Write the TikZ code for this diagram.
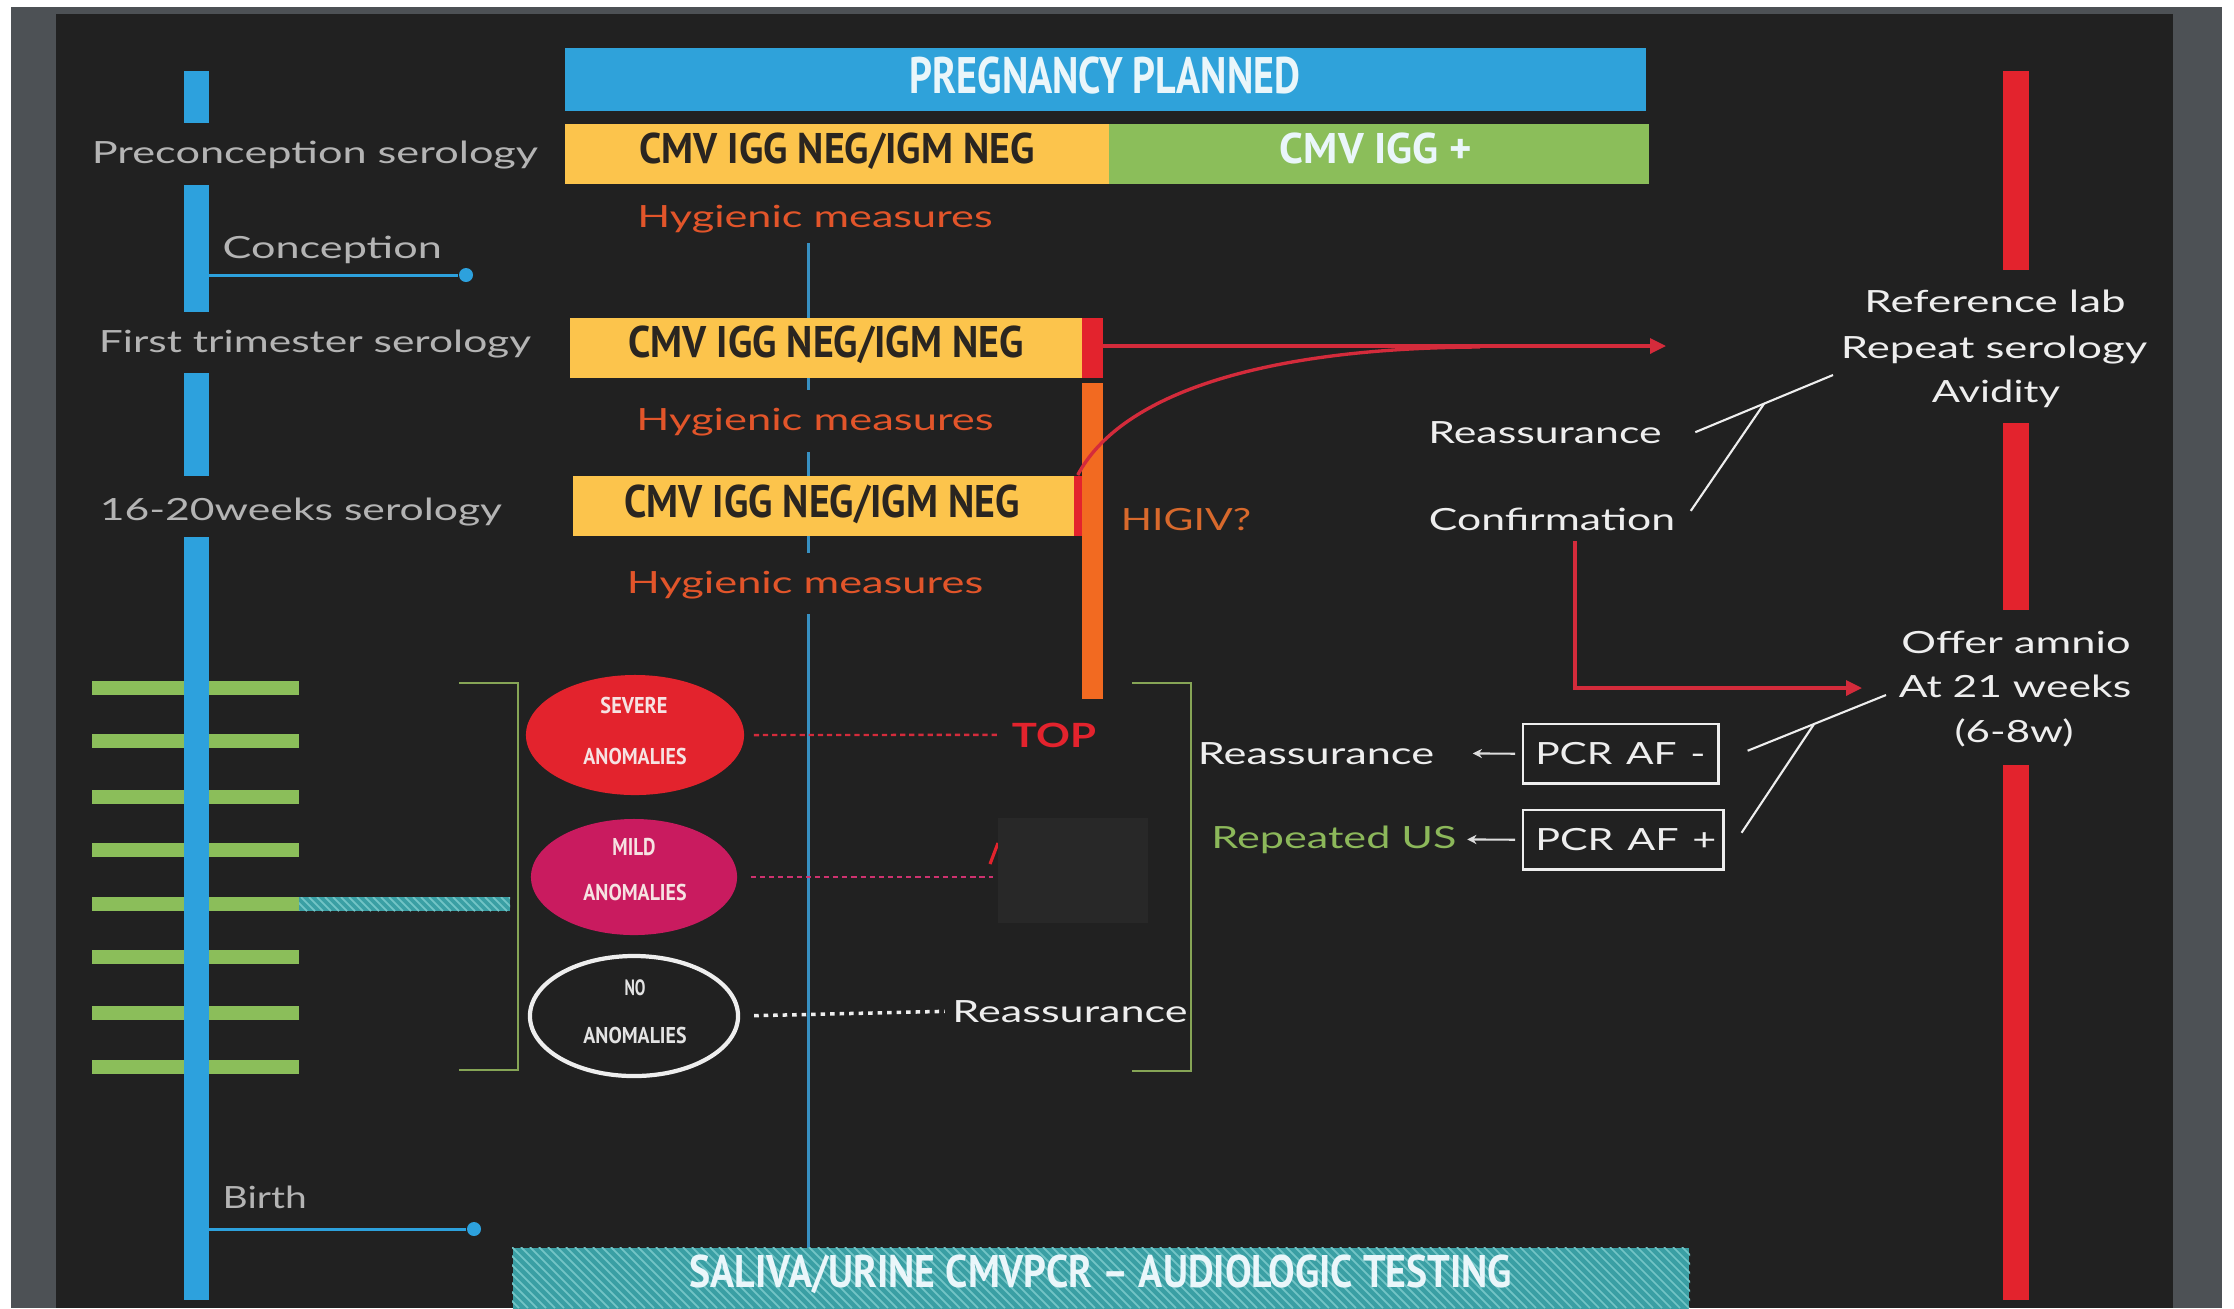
\documentclass[tikz,border=0pt]{standalone}
\usepackage{fontspec}
\usepackage{graphicx}
\setmainfont{Lato}
\newfontfamily\condf{PT Sans}
\usetikzlibrary{arrows.meta,shapes.geometric,calc}

\definecolor{bgdark}{HTML}{212121}
\definecolor{framec}{HTML}{4D5155}
\definecolor{tlblue}{HTML}{2DA1DD}
\definecolor{midblue}{HTML}{3790C2}
\definecolor{pblue}{HTML}{2FA2DA}
\definecolor{yel}{HTML}{FCC44C}
\definecolor{grn}{HTML}{8BBE5A}
\definecolor{barred}{HTML}{E3232D}
\definecolor{orng}{HTML}{F26A21}
\definecolor{magen}{HTML}{C91B5F}
\definecolor{tealc}{HTML}{3A9FA4}
\definecolor{tealh}{HTML}{72C4C6}
\definecolor{lgray}{HTML}{B4B4B4}
\definecolor{wtxt}{HTML}{EEEEEE}
\definecolor{hyg}{HTML}{E2552A}
\definecolor{higiv}{HTML}{D8692C}
\definecolor{redln}{HTML}{D42B3B}
\definecolor{repg}{HTML}{8CB85A}
\definecolor{brk}{HTML}{86A556}
\definecolor{darktxt}{HTML}{2A2520}
\definecolor{patch}{HTML}{282828}
\definecolor{sevtxt}{HTML}{F6E2E2}
\definecolor{pregtxt}{HTML}{EAF6FA}

\newlength\fitlen
\newcommand\fitw[2]{\settowidth\fitlen{#2}\pgfmathsetmacro\fitratio{#1/\fitlen}\scalebox{\fitratio}[1]{#2}}

\tikzset{
  txt/.style={inner sep=0pt, anchor=base, font=\fontsize{8.7}{10}\selectfont},
  graytxt/.style={txt, text=lgray},
  whitetxt/.style={txt, text=wtxt},
  hygtxt/.style={txt, text=hyg},
  cond/.style={inner sep=0pt, anchor=base, font={\condf\bfseries\fontsize{#1}{#1}\selectfont}},
  box/.style={inner sep=0pt, anchor=north west, draw=none},
  tl/.style={draw=tlblue, line width=0.85pt},
  dot/.style={circle, fill=tlblue, inner sep=0pt, minimum size=0.14cm},
  midline/.style={draw=midblue, line width=0.85pt},
  redarrow/.style={draw=redln, line width=0.95pt, -{Triangle[length=4.5pt,width=4.2pt]}},
  redcurve/.style={draw=redln, line width=0.95pt},
  wline/.style={draw=wtxt, line width=0.6pt},
  smallarr/.style={draw=wtxt!85!gray, line width=0.6pt, -{Stealth[length=2.6pt,width=2.6pt]}},
  bracket/.style={draw=brk, line width=0.75pt},
  pcrbox/.style={draw=wtxt, line width=0.7pt, anchor=north west, inner xsep=0.12cm, inner ysep=0pt,
     minimum height=0.59cm, align=left, text=wtxt, font=\fontsize{8.7}{10}\selectfont},
  anom/.style={ellipse, inner sep=0pt},
  sevdash/.style={draw=redln, line width=0.7pt, dash pattern=on 1.5pt off 1.1pt},
  milddash/.style={draw=magen!90!white, line width=0.7pt, dash pattern=on 1.5pt off 1.1pt},
  nodash/.style={draw=wtxt, line width=1pt, dash pattern=on 1.3pt off 1.4pt},
}

\begin{document}
\begin{tikzpicture}[x=0.01cm, y=-0.01cm]
\useasboundingbox (0,0) rectangle (2234,1308);
% frame
\fill[white] (0,0) rectangle (2234,1308);
\fill[framec] (11,7) rectangle (2222,1308);
\fill[bgdark] (56,14) rectangle (2173,1308);

% central thin blue line
\draw[midline] (808,243) -- (808,390);
\draw[midline] (808,452) -- (808,553);
\draw[midline] (808,614) -- (808,1248);

% top boxes
\node[box, fill=pblue, minimum width=10.81cm, minimum height=0.63cm] (pregbox) at (564,47) {};
\node[box, fill=yel, minimum width=5.44cm, minimum height=0.60cm] (negbox) at (564,123) {};
\node[box, fill=grn, minimum width=5.40cm, minimum height=0.60cm] (posbox) at (1108,123) {};
\node[cond=14.6, text=pregtxt] (pregtxt) at (1105,93) {\fitw{3.90cm}{PREGNANCY PLANNED}};
\node[cond=12.2, text=darktxt] (negtxt) at (837,163) {\fitw{3.95cm}{CMV IGG NEG/IGM NEG}};
\node[cond=12.2, text=pregtxt] (postxt) at (1376,163) {\fitw{1.92cm}{CMV IGG +}};

% first trimester / 16-20 weeks boxes
\node[box, fill=yel, minimum width=5.12cm, minimum height=0.60cm] (boxA) at (569,317) {};
\node[box, fill=barred, minimum width=0.21cm, minimum height=0.60cm] (redA) at (1081,317) {};
\node[box, fill=orng, minimum width=0.21cm, minimum height=3.16cm] (orbar) at (1081,382) {};
\node[box, fill=yel, minimum width=5.01cm, minimum height=0.60cm] (boxB) at (572,475) {};
\node[box, fill=barred, minimum width=0.08cm, minimum height=0.60cm] (redB) at (1073,475) {};
\node[cond=12.6, text=darktxt] (txtA) at (826,357) {\fitw{3.95cm}{CMV IGG NEG/IGM NEG}};
\node[cond=13, text=darktxt] (txtB) at (822,517) {\fitw{3.95cm}{CMV IGG NEG/IGM NEG}};

% hygienic measures
\node[hygtxt] (hyg1) at (815,227) {\fitw{3.55cm}{Hygienic measures}};
\node[hygtxt] (hyg2) at (815,430) {\fitw{3.57cm}{Hygienic measures}};
\node[hygtxt] (hyg3) at (805,593) {\fitw{3.56cm}{Hygienic measures}};
\node[txt, text=higiv] (higiv) at (1186,530) {\fitw{1.30cm}{HIGIV?}};

% left timeline
\foreach \gy in {688,741,797,850,904,957,1013,1067}
  \fill[grn] (92,\gy-7) rectangle (299,\gy+7);
\begin{scope}
  \clip (299,897) rectangle (510,911);
  \fill[tealc] (299,897) rectangle (510,911);
  \foreach \hx in {285,293,...,510}
    \draw[tealh, line width=0.5pt] (\hx,897) -- ({\hx+14},911);
\end{scope}
\fill[tlblue] (184,71) rectangle (209,123);
\fill[tlblue] (184,185) rectangle (209,312);
\fill[tlblue] (184,373) rectangle (209,476);
\fill[tlblue] (184,537) rectangle (209,1300);

\node[graytxt] (precon) at (315,163) {\fitw{4.46cm}{Preconception serology}};
\node[graytxt, anchor=base west] (concep) at (222,258) {\fitw{2.19cm}{Conception}};
\node[graytxt] (firsttri) at (315,352) {\fitw{4.32cm}{First trimester serology}};
\node[graytxt] (wk) at (301,520) {\fitw{4.02cm}{16-20weeks serology}};
\node[graytxt, anchor=base west] (birth) at (222,1208) {\fitw{0.84cm}{Birth}};
\node[dot] (cdot) at (466,275) {};
\node[dot] (bdot) at (474,1229) {};
\draw[tl] (209,275) -- (cdot);
\draw[tl] (209,1229) -- (bdot);

% brackets
\draw[bracket] (459,683) -- (518,683) -- (518,1070) -- (459,1070);
\draw[bracket] (1132,683) -- (1191,683) -- (1191,1071) -- (1132,1071);

% anomalies
\node[anom, fill=barred, minimum width=2.18cm, minimum height=1.20cm] (sev) at (635,735) {};
\node[anom, fill=magen, minimum width=2.06cm, minimum height=1.16cm] (mild) at (634,877) {};
\node[anom, fill=bgdark, draw=wtxt, line width=1.2pt, minimum width=2.08cm, minimum height=1.20cm] (noan) at (634,1016) {};
\node[cond=6.5, text=sevtxt] (sevt1) at (634,713) {\fitw{0.67cm}{SEVERE}};
\node[cond=6.5, text=sevtxt] (sevt2) at (635,764) {\fitw{1.03cm}{ANOMALIES}};
\node[cond=6.9, text=sevtxt] (mildt1) at (634,855) {\fitw{0.43cm}{MILD}};
\node[cond=6.5, text=sevtxt] (mildt2) at (635,900) {\fitw{1.03cm}{ANOMALIES}};
\node[cond=6.3, text=wtxt!90!gray] (not1) at (635,995) {\fitw{0.21cm}{NO}};
\node[cond=6.5, text=wtxt!90!gray] (not2) at (635,1043) {\fitw{1.03cm}{ANOMALIES}};

\node[txt, text=barred, font=\bfseries\fontsize{9.5}{10}\selectfont] (top) at (1054,747) {\fitw{0.84cm}{TOP}};
\node[whitetxt] (reas3) at (1070,1022) {\fitw{2.35cm}{Reassurance}};
\coordinate (mildend) at (993,877);
\draw[sevdash, shorten <=0.09cm, shorten >=0.14cm] (sev.east) -- (top.west);
\draw[milddash, shorten <=0.13cm] (mild.east) -- (mildend);
\draw[nodash, shorten <=0.14cm, shorten >=0.07cm] (noan.east) -- (reas3.west);
\draw[barred, line width=0.9pt] (990,864) -- (998,843);
\fill[patch] (998,818) rectangle (1148,923);

% right side texts
\node[whitetxt] (reas1) at (1545,443) {\fitw{2.33cm}{Reassurance}};
\node[whitetxt] (conf) at (1552,530) {\fitw{2.46cm}{Confirmation}};
\node[whitetxt] (ref1) at (1995,312) {\fitw{2.61cm}{Reference lab}};
\node[whitetxt] (ref2) at (1994,358) {\fitw{3.06cm}{Repeat serology}};
\node[whitetxt] (ref3) at (1996,402) {\fitw{1.28cm}{Avidity}};
\node[whitetxt] (off1) at (2016,653) {\fitw{2.29cm}{Offer amnio}};
\node[whitetxt] (off2) at (2015,697) {\fitw{2.32cm}{At 21 weeks}};
\node[whitetxt] (off3) at (2014,742) {\fitw{1.19cm}{(6-8w)}};
\node[whitetxt] (reas2) at (1316,764) {\fitw{2.36cm}{Reassurance}};
\node[txt, text=repg] (repus) at (1334,848) {\fitw{2.45cm}{Repeated US}};
\node[pcrbox, text width=1.71cm] (pcrneg) at (1522,723) {\fitw{1.70cm}{PCR AF -}};
\node[pcrbox, text width=1.76cm] (pcrpos) at (1522,809) {\fitw{1.81cm}{PCR AF +}};

% right red bar
\fill[barred] (2003,71) rectangle (2029,270);
\fill[barred] (2003,423) rectangle (2029,610);
\fill[barred] (2003,765) rectangle (2029,1300);

% red connectors
\coordinate (labin) at (1666,346);
\coordinate (amnioin) at (1862,688);
\draw[redarrow] (redA.east |- labin) -- (labin);
\draw[redcurve] (redB.north) .. controls (1120,395) and (1260,348) .. (1480,347);
\draw[redarrow] ([xshift=0.23cm, yshift=-0.1cm]conf.south) |- (amnioin);

% white fork connectors
\coordinate (labtip) at (1833,375);
\coordinate (amniotip) at (1886,695);
\draw[wline] ([xshift=0.33cm]reas1.east) -- (labtip);
\draw[wline] ([xshift=0.15cm, yshift=0.08cm]conf.east) -- ($([xshift=0.33cm]reas1.east)!0.5!(labtip)$);
\draw[wline] ([xshift=0.28cm, yshift=0.03cm]pcrneg.east) -- (amniotip);
\draw[wline] ([xshift=0.17cm, yshift=0.07cm]pcrpos.east) -- ($([xshift=0.28cm, yshift=0.03cm]pcrneg.east)!0.48!(amniotip)$);
\draw[smallarr, shorten <=0.07cm, shorten >=0.38cm] (pcrneg.west) -- (reas2.east);
\draw[smallarr, shorten <=0.07cm, shorten >=0.1cm] (pcrpos.west) -- (repus.east);

% bottom bar
\node[box, fill=tealc, minimum width=11.76cm, minimum height=0.61cm] (salbox) at (512,1247) {};
\begin{scope}
  \clip (salbox.north west) rectangle (salbox.south east);
  \foreach \hx in {440,449,...,1690}
    \draw[tealh, line width=0.5pt] (\hx,1247) -- ({\hx+61},1308);
\end{scope}
\node[cond=13, text=pregtxt] (saltxt) at (1101,1287) {\fitw{8.22cm}{SALIVA/URINE CMVPCR – AUDIOLOGIC TESTING}};
\end{tikzpicture}
\end{document}
